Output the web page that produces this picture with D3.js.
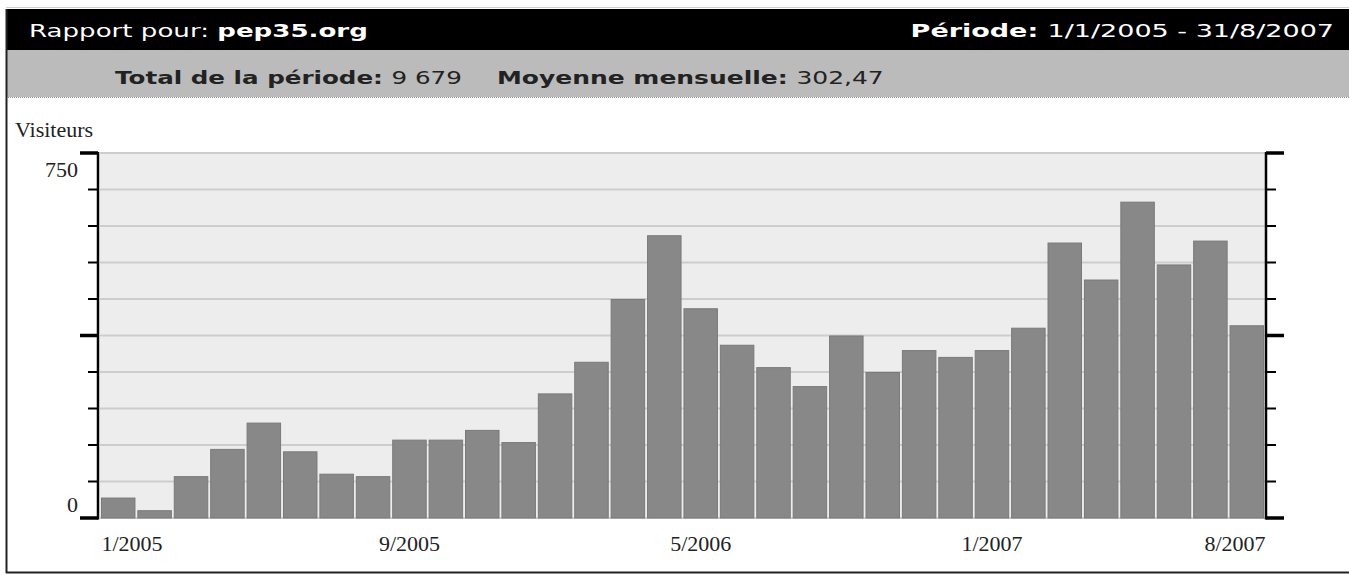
<!DOCTYPE html>
<html>
<head>
<meta charset="utf-8">
<script src="https://cdn.jsdelivr.net/npm/d3@7"></script>
<style>
  html, body { margin: 0; padding: 0; background: #fff; }
  svg { display: block; }
</style>
</head>
<body>
<svg id="chart" width="1349" height="575"></svg>
<script>
// Monthly visitors, 1/2005 .. 8/2007
const months = [
  "1/2005", "2/2005", "3/2005", "4/2005", "5/2005", "6/2005", "7/2005", "8/2005",
  "9/2005", "10/2005", "11/2005", "12/2005", "1/2006", "2/2006", "3/2006", "4/2006",
  "5/2006", "6/2006", "7/2006", "8/2006", "9/2006", "10/2006", "11/2006", "12/2006",
  "1/2007", "2/2007", "3/2007", "4/2007", "5/2007", "6/2007", "7/2007", "8/2007"
];
const visitors = [
  41, 15, 85, 141, 195, 136, 90, 85,
  160, 160, 180, 155, 255, 320, 449, 580,
  430, 355, 309, 270, 374, 299, 344, 330,
  344, 390, 565, 489, 649, 520, 569, 395
];
const xTickLabels = ["1/2005", "9/2005", "5/2006", "1/2007", "8/2007"];
const yGridValues = [0, 75, 150, 225, 300, 375, 450, 525, 600, 675, 750];
const yMajorValues = [0, 375, 750];
const yLabelValues = [0, 750];

const svg = d3.select("#chart");
const W = 1349, H = 575;

// plot box
const plot = { left: 100, right: 1265, top: 153, bottom: 518 };

const x = d3.scaleBand()
  .domain(months)
  .range([plot.left, plot.right])
  .paddingInner(0.08)
  .paddingOuter(0.04);

const y = d3.scaleLinear()
  .domain([0, 750])
  .range([plot.bottom, plot.top]);

// ---- frame + header bars
svg.append("line")
  .attr("x1", 6).attr("x2", W).attr("y1", 7.5).attr("y2", 7.5)
  .attr("stroke", "#cfcfcf").attr("stroke-width", 1);

svg.append("rect")
  .attr("x", 6).attr("y", 9).attr("width", W - 6).attr("height", 41)
  .attr("fill", "#000");

svg.append("rect")
  .attr("x", 6).attr("y", 50).attr("width", W - 6).attr("height", 47)
  .attr("fill", "#bbbbbb");

svg.append("line")
  .attr("x1", 6).attr("x2", W).attr("y1", 97.5).attr("y2", 97.5)
  .attr("stroke", "#8f8f8f").attr("stroke-dasharray", "1,1");

svg.append("line")
  .attr("x1", 6.5).attr("x2", 6.5).attr("y1", 9).attr("y2", 573)
  .attr("stroke", "#222").attr("stroke-width", 2);

svg.append("line")
  .attr("x1", 6).attr("x2", W).attr("y1", 572.5).attr("y2", 572.5)
  .attr("stroke", "#222").attr("stroke-width", 2);

const headFont = "'DejaVu Sans', Verdana, sans-serif";

// header lines are wide-set in the original, so stretch them horizontally
function headerText(x0, y0, anchor, sx, color, parts) {
  const t = svg.append("text")
    .attr("transform", `translate(${x0},${y0}) scale(${sx},1)`)
    .attr("text-anchor", anchor)
    .attr("font-family", headFont).attr("font-size", 18.5)
    .attr("fill", color);
  parts.forEach(p => t.append("tspan").attr("font-weight", p[1] ? "bold" : "normal").text(p[0]));
}

headerText(29, 37, "start", 1.41, "#fff", [["Rapport pour: ", false], ["pep35.org", true]]);
headerText(1334, 37, "end", 1.46, "#fff", [["Période: ", true], ["1/1/2005 - 31/8/2007", false]]);
headerText(115, 84, "start", 1.33, "#222", [["Total de la période: ", true], ["9 679", false]]);
headerText(497, 84, "start", 1.35, "#222", [["Moyenne mensuelle: ", true], ["302,47", false]]);

// ---- plot background + grid
svg.append("rect")
  .attr("x", plot.left).attr("y", plot.top)
  .attr("width", plot.right - plot.left).attr("height", plot.bottom - plot.top)
  .attr("fill", "#ededed");

svg.append("g")
  .selectAll("line")
  .data(yGridValues)
  .join("line")
  .attr("x1", plot.left).attr("x2", plot.right)
  .attr("y1", d => y(d)).attr("y2", d => y(d))
  .attr("stroke", "#cdcdcd").attr("stroke-width", 2);

// ---- bars
svg.append("g")
  .selectAll("rect")
  .data(visitors)
  .join("rect")
  .attr("x", (d, i) => x(months[i]))
  .attr("y", d => y(d))
  .attr("width", x.bandwidth())
  .attr("height", d => y(0) - y(d))
  .attr("fill", "#888888")
  .attr("stroke", "#7a7a7a")
  .attr("stroke-width", 1);

// ---- axes (left + right), ticks outward
const axisG = svg.append("g").attr("stroke", "#000");

axisG.append("line")
  .attr("x1", 98).attr("x2", 98)
  .attr("y1", plot.top - 1).attr("y2", plot.bottom + 1.5)
  .attr("stroke-width", 2.5);

axisG.append("line")
  .attr("x1", 1266).attr("x2", 1266)
  .attr("y1", plot.top - 1).attr("y2", plot.bottom + 1.5)
  .attr("stroke-width", 2.5);

const isMajor = d => yMajorValues.includes(d);

axisG.selectAll(".tl")
  .data(yGridValues)
  .join("line")
  .attr("class", "tl")
  .attr("x1", d => isMajor(d) ? 80 : 88).attr("x2", 98)
  .attr("y1", d => y(d)).attr("y2", d => y(d))
  .attr("stroke-width", d => isMajor(d) ? 3.5 : 2);

axisG.selectAll(".tr")
  .data(yGridValues)
  .join("line")
  .attr("class", "tr")
  .attr("x1", 1266).attr("x2", d => isMajor(d) ? 1284 : 1276)
  .attr("y1", d => y(d)).attr("y2", d => y(d))
  .attr("stroke-width", d => isMajor(d) ? 3.5 : 2);

const serif = "'Liberation Serif', 'Times New Roman', serif";

svg.append("g")
  .selectAll("text")
  .data(yLabelValues)
  .join("text")
  .attr("x", 78)
  .attr("y", d => d === 0 ? y(d) - 6 : y(d) + 24)
  .attr("text-anchor", "end")
  .attr("font-family", serif).attr("font-size", 22)
  .attr("fill", "#222")
  .text(d => d);

svg.append("text")
  .attr("x", 15).attr("y", 137)
  .attr("font-family", serif).attr("font-size", 22)
  .attr("fill", "#222")
  .text("Visiteurs");

// x labels: first/last kept inside the plot
const last = months[months.length - 1];
svg.append("g")
  .selectAll("text")
  .data(xTickLabels)
  .join("text")
  .attr("x", d => {
    if (d === months[0]) return x(d);
    if (d === last) return x(d) + x.bandwidth() + 2;
    return x(d) + x.bandwidth() / 2;
  })
  .attr("y", 551)
  .attr("text-anchor", d => d === months[0] ? "start" : d === last ? "end" : "middle")
  .attr("font-family", serif).attr("font-size", 22)
  .attr("fill", "#222")
  .text(d => d);
</script>
</body>
</html>
